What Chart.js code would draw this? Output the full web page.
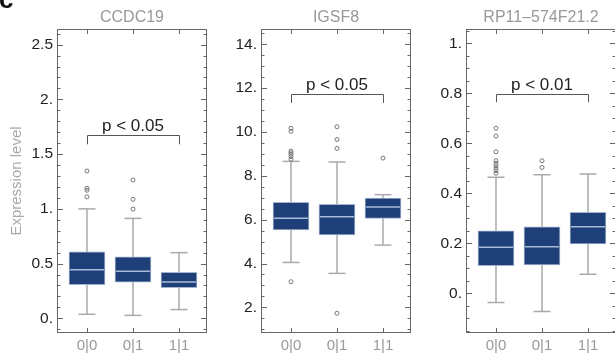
<!DOCTYPE html>
<html>
<head>
<meta charset="utf-8">
<script src="https://cdn.jsdelivr.net/npm/chart.js@4.4.1/dist/chart.umd.min.js"></script>
<style>
  html, body { margin: 0; padding: 0; background: #fff; overflow: hidden; }
  #wrap { position: relative; width: 615px; height: 356px; overflow: hidden; }
  canvas { position: absolute; top: 0; }
  .tag { position: absolute; left: -1px; top: -14px; z-index: 2; font: bold 26px "Liberation Sans", Arial, sans-serif; line-height: 26px; color: #111; }
</style>
</head>
<body>
<div id="wrap">
  <div class="tag">c</div>
  <canvas id="chart-ccdc19" width="210" height="356" style="left:0"></canvas>
  <canvas id="chart-igsf8" width="210" height="356" style="left:204px"></canvas>
  <canvas id="chart-rp11" width="210" height="356" style="left:409px"></canvas>
</div>
<script>
const categories = ['0|0', '0|1', '1|1'];
const pLabels = ['p < 0.05', 'p < 0.05', 'p < 0.01'];

// CCDC19
const ccdcLow = [0.037, 0.027, 0.080];
const ccdcQ1 = [0.308, 0.330, 0.280];
const ccdcMedian = [0.444, 0.430, 0.333];
const ccdcQ3 = [0.607, 0.562, 0.420];
const ccdcHigh = [1.000, 0.913, 0.600];
const ccdcOutliers = [[1.346, 1.188, 1.170, 1.110], [1.264, 1.087, 0.998], []];
const ccdcBracket = [1.676, 1.590];

// IGSF8
const igsfLow = [4.05, 3.55, 4.84];
const igsfQ1 = [5.53, 5.31, 6.06];
const igsfMedian = [6.06, 6.13, 6.58];
const igsfQ3 = [6.79, 6.70, 6.99];
const igsfHigh = [8.66, 8.63, 7.14];
const igsfOutliers = [[10.17, 10.03, 9.13, 9.05, 8.98, 8.88, 8.76, 3.17], [10.24, 9.66, 9.25, 1.73], [8.81]];
const igsfBracket = [11.72, 11.33];

// RP11-574F21.2
const rpLow = [-0.037, -0.073, 0.076];
const rpQ1 = [0.110, 0.113, 0.197];
const rpMedian = [0.184, 0.186, 0.266];
const rpQ3 = [0.250, 0.266, 0.324];
const rpHigh = [0.464, 0.474, 0.477];
const rpOutliers = [[0.660, 0.629, 0.566, 0.530, 0.520, 0.510, 0.500, 0.490, 0.480], [0.530, 0.503], []];
const rpBracket = [0.797, 0.764];

const FONT = '"Liberation Sans", Arial, sans-serif';
Chart.defaults.font.family = FONT;

// Mathematica-style tick text: whole numbers keep a trailing dot
function formatTick(v) {
    const r = Math.round(v * 1000) / 1000;
    return Number.isInteger(r) ? r + '.' : String(r);
}

// frame with inward ticks, significance bracket and panel title
const boxFrame = {
    id: 'boxFrame',
    afterDraw(chart, args, opts) {
        const {ctx, chartArea: a, scales: {x, y}} = chart;
        ctx.save();
        ctx.strokeStyle = '#666';
        ctx.lineWidth = 1;
        ctx.strokeRect(a.left + 0.5, a.top + 0.5, a.right - a.left - 1, a.bottom - a.top - 1);

        ctx.beginPath();
        const first = Math.ceil(y.min / opts.minor - 1e-6);
        for (let i = first; i * opts.minor <= y.max + 1e-9; i++) {
            const v = i * opts.minor;
            const py = Math.round(y.getPixelForValue(v)) + 0.5;
            const isMajor = Math.abs(v / opts.major - Math.round(v / opts.major)) < 1e-6;
            const len = isMajor ? 6 : 3.5;
            ctx.moveTo(a.left, py); ctx.lineTo(a.left + len, py);
            ctx.moveTo(a.right, py); ctx.lineTo(a.right - len, py);
        }
        categories.forEach(function(c, i) {
            const px = Math.round(x.getPixelForValue(i)) + 0.5;
            ctx.moveTo(px, a.bottom); ctx.lineTo(px, a.bottom - 5);
            ctx.moveTo(px, a.top); ctx.lineTo(px, a.top + 5);
        });
        ctx.stroke();

        // bracket between first and last group
        const x0 = Math.round(x.getPixelForValue(0)) + 0.5;
        const x2 = Math.round(x.getPixelForValue(2)) + 0.5;
        const yb = Math.round(y.getPixelForValue(opts.bracket[0])) + 0.5;
        const ye = y.getPixelForValue(opts.bracket[1]);
        ctx.strokeStyle = '#555';
        ctx.beginPath();
        ctx.moveTo(x0, ye); ctx.lineTo(x0, yb); ctx.lineTo(x2, yb); ctx.lineTo(x2, ye);
        ctx.stroke();

        ctx.fillStyle = '#222';
        ctx.font = '17px ' + FONT;
        ctx.textAlign = 'center';
        ctx.textBaseline = 'alphabetic';
        ctx.fillText(opts.pLabel, x.getPixelForValue(1), yb - 5);

        ctx.fillStyle = '#999';
        ctx.font = '16px ' + FONT;
        ctx.fillText(opts.title, (a.left + a.right) / 2, a.top - 7.5);
        ctx.restore();
    }
};

function makeChart(id, cfg) {
    const idx = categories.map((c, i) => i);
    const whiskers = [];
    idx.forEach(function(i) {
        whiskers.push({x: i, y: cfg.low[i]}, {x: i, y: cfg.high[i]}, {x: i, y: null});
    });
    const caps = idx.flatMap(i => [{x: i, y: cfg.low[i]}, {x: i, y: cfg.high[i]}]);
    const boxes = idx.map(i => ({x: i, y: [cfg.q1[i], cfg.q3[i]]}));
    const medians = idx.map(i => ({x: i, y: cfg.median[i]}));
    const outliers = cfg.outliers.flatMap((vals, i) => vals.map(v => ({x: i, y: v})));

    return new Chart(document.getElementById(id), {
        type: 'bar',
        data: {
            datasets: [
                { type: 'line', data: whiskers, borderColor: '#aaa', borderWidth: 1.5, pointRadius: 0, spanGaps: false, order: 4 },
                { type: 'scatter', data: caps, pointStyle: 'line', pointRadius: 8.5, borderColor: '#aaa', borderWidth: 1.5, order: 3 },
                { type: 'bar', data: boxes, backgroundColor: '#1f3f78', borderColor: '#a3b3d0', borderWidth: 1, borderSkipped: false, barThickness: 36, order: 2 },
                { type: 'scatter', data: medians, pointStyle: 'line', pointRadius: 17, borderColor: '#a9bbd8', borderWidth: 1.5, order: 1 },
                { type: 'scatter', data: outliers, pointStyle: 'circle', pointRadius: 2, borderColor: '#777', backgroundColor: 'rgba(0,0,0,0)', borderWidth: 1, order: 0 }
            ]
        },
        options: {
            responsive: false,
            animation: false,
            events: [],
            layout: { autoPadding: false, padding: { top: 29, right: 3, bottom: 0, left: 0 } },
            scales: {
                x: {
                    type: 'linear',
                    min: -0.652,
                    max: 2.609,
                    offset: false,
                    afterFit: function(s) { s.height = 23; s.paddingLeft = 0; s.paddingRight = 0; },
                    grid: { display: false, drawTicks: false },
                    border: { display: false },
                    ticks: {
                        stepSize: 1,
                        includeBounds: false,
                        autoSkip: false,
                        maxRotation: 0,
                        padding: 4,
                        color: '#999',
                        font: { size: 15 },
                        callback: v => categories[v] ?? ''
                    }
                },
                y: {
                    type: 'linear',
                    min: cfg.yMin,
                    max: cfg.yMax,
                    afterFit: function(s) { s.width = 57; s.paddingTop = 0; s.paddingBottom = 0; },
                    grid: { display: false, drawTicks: false },
                    border: { display: false },
                    ticks: {
                        stepSize: cfg.major,
                        includeBounds: false,
                        padding: 4,
                        color: '#222',
                        font: { size: 15.5 },
                        callback: formatTick
                    },
                    title: {
                        display: !!cfg.yTitle,
                        text: cfg.yTitle || '',
                        color: '#aaa',
                        font: { size: 15 },
                        padding: { top: 8, bottom: 0 }
                    }
                }
            },
            plugins: {
                legend: { display: false },
                tooltip: { enabled: false },
                boxFrame: {
                    title: cfg.title,
                    pLabel: cfg.pLabel,
                    bracket: cfg.bracket,
                    major: cfg.major,
                    minor: cfg.minor
                }
            }
        },
        plugins: [boxFrame]
    });
}

makeChart('chart-ccdc19', {
    title: 'CCDC19', yTitle: 'Expression level', pLabel: pLabels[0], bracket: ccdcBracket,
    low: ccdcLow, q1: ccdcQ1, median: ccdcMedian, q3: ccdcQ3, high: ccdcHigh, outliers: ccdcOutliers,
    yMin: -0.134, yMax: 2.643, major: 0.5, minor: 0.1
});

makeChart('chart-igsf8', {
    title: 'IGSF8', pLabel: pLabels[1], bracket: igsfBracket,
    low: igsfLow, q1: igsfQ1, median: igsfMedian, q3: igsfQ3, high: igsfHigh, outliers: igsfOutliers,
    yMin: 0.83, yMax: 14.7, major: 2, minor: 0.5
});

makeChart('chart-rp11', {
    title: 'RP11\u2013574F21.2', pLabel: pLabels[2], bracket: rpBracket,
    low: rpLow, q1: rpQ1, median: rpMedian, q3: rpQ3, high: rpHigh, outliers: rpOutliers,
    yMin: -0.159, yMax: 1.057, major: 0.2, minor: 0.05
});
</script>
</body>
</html>
